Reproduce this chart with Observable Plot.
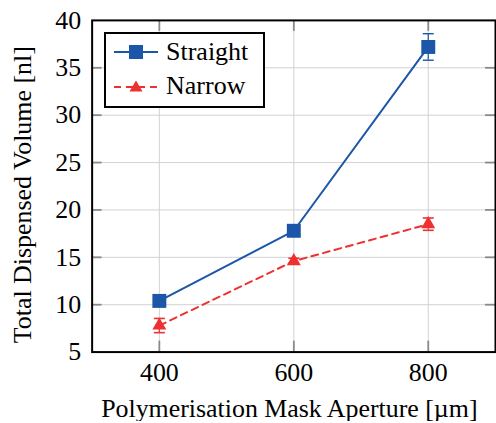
<!DOCTYPE html>
<html>
<head>
<meta charset="utf-8">
<script src="https://cdn.jsdelivr.net/npm/d3@7"></script>
<script src="https://cdn.jsdelivr.net/npm/@observablehq/plot@0.6"></script>
<style>
  html, body { margin: 0; padding: 0; background: #fff; overflow: hidden; }
  #wrap { position: relative; width: 496px; height: 423px; overflow: hidden; }
  #wrap, #wrap *, #wrap svg, #wrap svg text { font-family: "Liberation Serif", "Times New Roman", serif !important; }
  #legend { position: absolute; left: 104px; top: 32px; width: 157px; height: 72px; border: 2px solid #000; background: #fff; box-sizing: content-box; }
  .row { position: absolute; left: 0; height: 34px; display: flex; align-items: center; font-size: 26px; color: #000; }
  .row svg { margin-left: 8px; margin-right: 8px; }
</style>
</head>
<body>
<div id="wrap"></div>
<script>
const apertures = [400, 600, 800];
const straightVolume = [10.4, 17.8, 37.2];
const straightError = [0.3, 0.4, 1.4];
const narrowVolume = [7.8, 14.6, 18.5];
const narrowError = [0.75, 0.3, 0.65];
const seriesNames = ["Straight", "Narrow"];
const seriesColors = ["#1b56a8", "#ee3030"];
const xTicks = [400, 600, 800];
const yTicks = [5, 10, 15, 20, 25, 30, 35, 40];
const yInnerTicks = [10, 15, 20, 25, 30, 35];
const xLabel = "Polymerisation Mask Aperture [µm]";
const yLabel = "Total Dispensed Volume [nl]";

const rows = [];
apertures.forEach((a, i) => {
  rows.push({series: seriesNames[0], x: a, y: straightVolume[i], e: straightError[i]});
  rows.push({series: seriesNames[1], x: a, y: narrowVolume[i], e: narrowError[i]});
});
const straight = rows.filter(d => d.series === seriesNames[0]);
const narrow = rows.filter(d => d.series === seriesNames[1]);

const FONT = "Liberation Serif";
const capSymbol = {draw(context) { context.moveTo(-5.5, 0); context.lineTo(5.5, 0); }};
const tickColor = "#8a8a8a";
const gridColor = "#d2d2d2";

const chart = Plot.plot({
  width: 498,
  height: 423,
  marginLeft: 92,
  marginRight: 1,
  marginTop: 20,
  marginBottom: 70,
  style: {fontFamily: FONT, fontSize: "26px", color: "#000", background: "#fff"},
  x: {domain: [300, 900], ticks: xTicks},
  y: {domain: [5, 40], ticks: yTicks},
  marks: [
    Plot.gridX(xTicks, {stroke: gridColor, strokeOpacity: 1, strokeWidth: 1}),
    Plot.gridY(yTicks, {stroke: gridColor, strokeOpacity: 1, strokeWidth: 1}),
    Plot.tickY(yInnerTicks, {y: d => d, stroke: tickColor, strokeWidth: 1.8, insetRight: 395}),
    Plot.tickY(yInnerTicks, {y: d => d, stroke: tickColor, strokeWidth: 1.8, insetLeft: 395}),
    Plot.tickX(xTicks, {x: d => d, stroke: tickColor, strokeWidth: 1.8, insetTop: 322}),
    Plot.tickX(xTicks, {x: d => d, stroke: tickColor, strokeWidth: 1.8, insetBottom: 322}),
    Plot.axisX(xTicks, {tickSize: 0, tickPadding: 11, label: null, fontSize: 26, fontFamily: FONT, fill: "#000"}),
    Plot.axisY(yTicks, {tickSize: 0, tickPadding: 11, label: null, fontSize: 26, fontFamily: FONT, fill: "#000"}),
    Plot.frame({stroke: "#000", strokeWidth: 2}),
    Plot.line(straight, {x: "x", y: "y", stroke: seriesColors[0], strokeWidth: 2}),
    Plot.line(narrow, {x: "x", y: "y", stroke: seriesColors[1], strokeWidth: 2, strokeDasharray: "7,5"}),
    Plot.ruleX(straight, {x: "x", y1: d => d.y - d.e, y2: d => d.y + d.e, stroke: seriesColors[0], strokeWidth: 1.2}),
    Plot.dot(straight, {x: "x", y: d => d.y - d.e, symbol: capSymbol, stroke: seriesColors[0], strokeWidth: 1.4, fill: "none"}),
    Plot.dot(straight, {x: "x", y: d => d.y + d.e, symbol: capSymbol, stroke: seriesColors[0], strokeWidth: 1.4, fill: "none"}),
    Plot.ruleX(narrow, {x: "x", y1: d => d.y - d.e, y2: d => d.y + d.e, stroke: seriesColors[1], strokeWidth: 1.2}),
    Plot.dot(narrow, {x: "x", y: d => d.y - d.e, symbol: capSymbol, stroke: seriesColors[1], strokeWidth: 1.6, fill: "none"}),
    Plot.dot(narrow, {x: "x", y: d => d.y + d.e, symbol: capSymbol, stroke: seriesColors[1], strokeWidth: 1.6, fill: "none"}),
    Plot.dot(straight, {x: "x", y: "y", symbol: "square", r: 7.9, fill: seriesColors[0], stroke: "none"}),
    Plot.dot(narrow, {x: "x", y: "y", symbol: "triangle", r: 5.2, fill: seriesColors[1], stroke: "none"}),
    Plot.text([xLabel], {text: d => d, frameAnchor: "bottom", textAnchor: "middle", dx: -4.5, dy: 56.5, lineAnchor: "middle", fontSize: 26, fontFamily: FONT, fill: "#000"}),
    Plot.text([yLabel], {text: d => d, frameAnchor: "left", textAnchor: "middle", rotate: -90, dx: -70, dy: 8.5, lineAnchor: "middle", fontSize: 26, fontFamily: FONT, fill: "#000"})
  ]
});

const wrap = document.getElementById("wrap");
wrap.appendChild(chart);

// Legend
const legend = document.createElement("div");
legend.id = "legend";
const swatch = (i) => {
  const c = seriesColors[i];
  if (i === 0) {
    return `<svg width="44" height="16"><line x1="0" y1="8" x2="44" y2="8" stroke="${c}" stroke-width="2"/><rect x="15" y="1" width="14" height="14" fill="${c}"/></svg>`;
  }
  return `<svg width="44" height="16"><line x1="0" y1="9" x2="44" y2="9" stroke="${c}" stroke-width="2" stroke-dasharray="7,5"/><path d="M22,2.5 L28.5,13.5 L15.5,13.5 Z" fill="${c}"/></svg>`;
};
seriesNames.forEach((name, i) => {
  const row = document.createElement("div");
  row.className = "row";
  row.style.top = (i === 0 ? 1 : 35) + "px";
  row.innerHTML = swatch(i) + `<span>${name}</span>`;
  legend.appendChild(row);
});
wrap.appendChild(legend);
</script>
</body>
</html>
